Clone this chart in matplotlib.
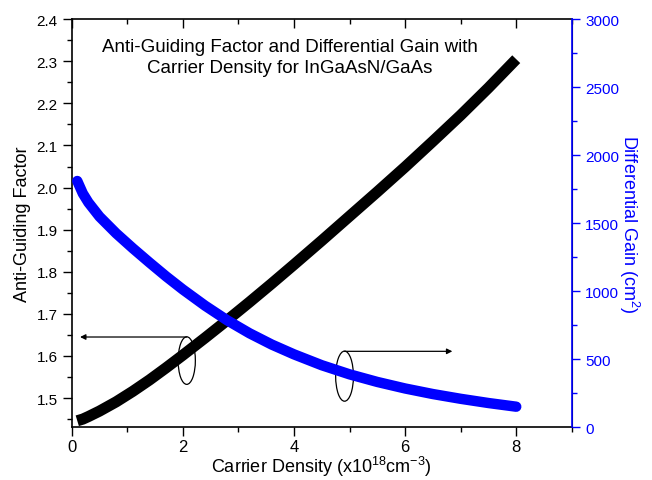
import numpy as np
import matplotlib.pyplot as plt
from matplotlib.patches import Ellipse
from matplotlib.ticker import MultipleLocator

plt.rcParams['font.family'] = ['Liberation Sans', 'DejaVu Sans']
plt.rcParams['mathtext.fontset'] = 'custom'
plt.rcParams['mathtext.rm'] = 'Liberation Sans'
plt.rcParams['mathtext.it'] = 'Liberation Sans'

# carrier density (x1e18 cm^-3)
density = [0.1, 0.2, 0.3, 0.5, 0.8, 1.1, 1.4, 1.7, 2.0, 2.4, 2.8, 3.2, 3.6,
           4.0, 4.5, 5.0, 5.5, 6.0, 6.5, 7.0, 7.5, 8.0]
# anti-guiding factor (left axis)
alpha = [1.446, 1.450, 1.456, 1.469, 1.491, 1.516, 1.543, 1.572, 1.602,
         1.643, 1.685, 1.728, 1.772, 1.817, 1.874, 1.932, 1.990, 2.049,
         2.110, 2.172, 2.237, 2.305]
# differential gain (right axis, cm^2)
gain = [1810, 1718, 1652, 1548, 1425, 1315, 1210, 1108, 1012, 893, 785, 690,
        607, 535, 455, 388, 332, 284, 243, 208, 177, 150]

BLUE = '#0000ff'

fig = plt.figure(figsize=(6.52, 4.81), dpi=100)
ax = fig.add_axes([0.110, 0.110, 0.767, 0.848])
ax2 = ax.twinx()

ax.plot(density, alpha, color='black', lw=8, solid_capstyle='butt',
        solid_joinstyle='round', zorder=3)
ax2.plot(density, gain, color=BLUE, lw=7.5, solid_capstyle='round',
         solid_joinstyle='round', zorder=3)

ax.set_xlim(0, 9)
ax.set_ylim(1.431, 2.4)
ax2.set_ylim(0, 3000)

ax.xaxis.set_major_locator(MultipleLocator(2))
ax.xaxis.set_minor_locator(MultipleLocator(1))
ax.yaxis.set_major_locator(MultipleLocator(0.1))
ax.yaxis.set_minor_locator(MultipleLocator(0.05))
ax2.yaxis.set_major_locator(MultipleLocator(500))
ax2.yaxis.set_minor_locator(MultipleLocator(250))

ax.tick_params(axis='x', which='both', direction='out', top=True,
               labelsize=12, pad=2)
ax.tick_params(axis='y', which='both', direction='out', labelsize=11)
ax.tick_params(which='major', length=6.5, width=1)
ax.tick_params(which='minor', length=3.6, width=1)
# top ticks point inward
for t in ax.xaxis.get_major_ticks() + ax.xaxis.get_minor_ticks():
    t.tick2line.set_marker(3)
ax.yaxis.set_major_formatter(plt.FormatStrFormatter('%.1f'))

ax2.tick_params(axis='y', which='both', direction='out', colors=BLUE,
                labelsize=11)
ax2.tick_params(which='major', length=6, width=1)
ax2.tick_params(which='minor', length=3.6, width=1)
ax2.spines['right'].set_color(BLUE)
ax2.spines['right'].set_linewidth(1.2)
for s in ['left', 'bottom', 'top']:
    ax.spines[s].set_linewidth(1.2)
ax2.spines['left'].set_visible(False)
ax2.spines['top'].set_visible(False)
ax2.spines['bottom'].set_visible(False)

ax.set_xlabel('Carrier Density (x10$^{18}$cm$^{-3}$)', fontsize=13, labelpad=0)
ax.set_ylabel('Anti-Guiding Factor', fontsize=13, labelpad=4)
ax2.set_ylabel('Differential Gain (cm$^2$)', fontsize=13, color=BLUE,
               rotation=270, labelpad=16)

ax.text(3.93, 2.31, 'Anti-Guiding Factor and Differential Gain with\n'
        'Carrier Density for InGaAsN/GaAs', ha='center', va='center',
        fontsize=13.5, linespacing=1.25)

# ellipses with arrows pointing to the relevant axis
ax.add_patch(Ellipse((2.07, 1.589), 0.31, 0.113, fill=False, lw=0.9,
                     color='black', zorder=4))
ax.annotate('', xy=(0.15, 1.645), xytext=(2.07, 1.645),
            arrowprops=dict(arrowstyle='-|>', color='black', lw=0.9,
                            mutation_scale=8, shrinkA=0, shrinkB=0))
ax.add_patch(Ellipse((4.91, 1.552), 0.32, 0.119, fill=False, lw=0.9,
                     color='black', zorder=4))
ax.annotate('', xy=(6.85, 1.611), xytext=(4.91, 1.611),
            arrowprops=dict(arrowstyle='-|>', color='black', lw=0.9,
                            mutation_scale=8, shrinkA=0, shrinkB=0))

fig.savefig('out.png', dpi=100)
